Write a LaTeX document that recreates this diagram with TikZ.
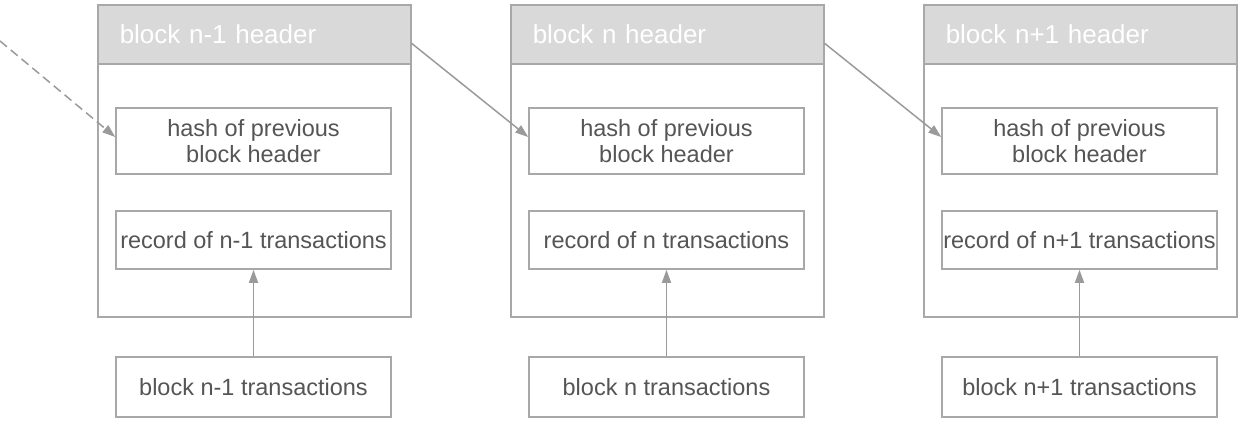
\documentclass[tikz,border=0pt]{standalone}
\usepackage{fontspec}
\setmainfont{Liberation Sans}
\usetikzlibrary{arrows.meta}
\definecolor{linegray}{HTML}{A8A8A8}
\definecolor{arrgray}{HTML}{9A9A9A}
\definecolor{hdrfill}{HTML}{D9D9D9}
\definecolor{txtgray}{HTML}{555555}
\tikzset{
  outerbox/.style={draw=linegray, line width=1.5pt, minimum width=313pt, minimum height=312pt, anchor=north west, inner sep=0pt},
  hdrbox/.style={draw=linegray, fill=hdrfill, line width=1.5pt, minimum width=313pt, minimum height=59pt, anchor=north west, inner xsep=22pt, inner ysep=0pt, text width=269pt, align=left, text=white, font=\fontsize{26}{31}\selectfont},
  innerbox/.style={draw=linegray, fill=white, line width=1.5pt, minimum width=275pt, inner sep=0pt, align=center, text=txtgray, font=\fontsize{23.5}{26}\selectfont},
  conn/.style={draw=arrgray, line width=1.5pt, -{Triangle[length=13pt,width=9pt]}},
}
\begin{document}
\begin{tikzpicture}[x=1pt,y=-1pt]
\useasboundingbox (0,0) rectangle (1254,432);
\foreach \i/\lbl/\rec/\tx in {1/n-1/n-1/n-1, 2/n/n/n, 3/n+1/n+1/n+1}{
  \pgfmathsetmacro{\dx}{(\i-1)*413}
  \node[outerbox] (out\i) at (97+\dx,4) {};
  \node[hdrbox] (hdr\i) at (97+\dx,4) {block \lbl\ header};
  \node[innerbox, minimum height=66pt] (hash\i) at (253.5+\dx,141) {hash of previous\\block header};
  \node[innerbox, minimum height=58pt] (rec\i) at (253.5+\dx,240) {record of \rec\ transactions};
  \node[innerbox, minimum height=60pt] (tx\i) at (253.5+\dx,387) {block \tx\ transactions};
  \draw[conn] (tx\i.north) -- (rec\i.south);
}
\coordinate (start) at (0,41);
\draw[conn, dashed, dash pattern=on 9pt off 5pt] (start) -- ([yshift=4pt]hash1.west);
\draw[conn] ([yshift=-9pt]hdr1.east) -- ([yshift=4pt]hash2.west);
\draw[conn] ([yshift=-9pt]hdr2.east) -- ([yshift=4pt]hash3.west);
\end{tikzpicture}
\end{document}
